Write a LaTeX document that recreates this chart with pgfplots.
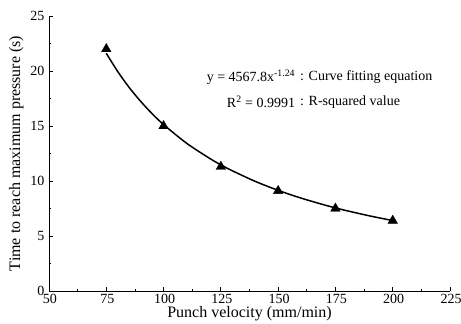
\documentclass[border=0pt]{standalone}
\usepackage{fontspec}
\setmainfont{Liberation Serif}
\usepackage{pgfplots}
\pgfplotsset{compat=1.18}
\begin{document}
\begin{tikzpicture}
\begin{axis}[
  name=a,
  scale only axis,
  width=401bp, height=275bp,
  xmin=50, xmax=225, ymin=0, ymax=25,
  axis lines=left,
  axis line style={-, line width=0.9pt},
  xtick={50,75,...,225}, ytick={0,5,...,25},
  minor x tick num=1, minor y tick num=1,
  tick align=inside,
  major tick length=4bp, minor tick length=2.5bp,
  tick style={line width=0.8pt, black},
  /pgf/number format/assume math mode=true,
  ticklabel style={font=\fontsize{14bp}{16bp}\selectfont},
  xticklabel style={yshift=0.5bp, xshift=1bp},
  yticklabel style={inner ysep=0pt, xshift=-1bp},
  label style={font=\fontsize{16bp}{18bp}\selectfont},
  xlabel={Punch velocity (mm/min)},
  ylabel={Time to reach maximum pressure (s)},
  xlabel style={yshift=3.5bp},
  clip=false,
]
\addplot[black, line width=1.5pt, smooth] coordinates {
(75,21.61) (80,19.95) (85,18.50) (90,17.24) (95,16.12) (100,15.13)
(110,13.44) (120,12.07) (125,11.47) (130,10.93) (140,9.967) (150,9.149)
(160,8.446) (170,7.834) (175,7.557) (180,7.297) (190,6.825) (200,6.404)
};
\addplot[only marks, mark=triangle*, mark size=5.5bp, black] coordinates {
(75,22.0) (100,15.0) (125,11.3) (150,9.1) (175,7.5) (200,6.4)
};
\node[anchor=east, font=\fontsize{14bp}{16bp}\selectfont, inner sep=0pt] at (axis cs:157.5,19.45) {y = 4567.8x\textsuperscript{-1.24}};
\node[anchor=west, font=\fontsize{14bp}{16bp}\selectfont, inner sep=0pt] at (axis cs:159.5,19.45) {: Curve fitting equation};
\node[anchor=east, font=\fontsize{14bp}{16bp}\selectfont, inner sep=0pt] at (axis cs:157.5,17.2) {R\textsuperscript{2} = 0.9991};
\node[anchor=west, font=\fontsize{14bp}{16bp}\selectfont, inner sep=0pt] at (axis cs:159.5,17.2) {: R-squared value};
\end{axis}
\pgfresetboundingbox
\path ([xshift=-49bp,yshift=-33bp]a.south west) rectangle ([xshift=11bp,yshift=16bp]a.north east);
\end{tikzpicture}
\end{document}
